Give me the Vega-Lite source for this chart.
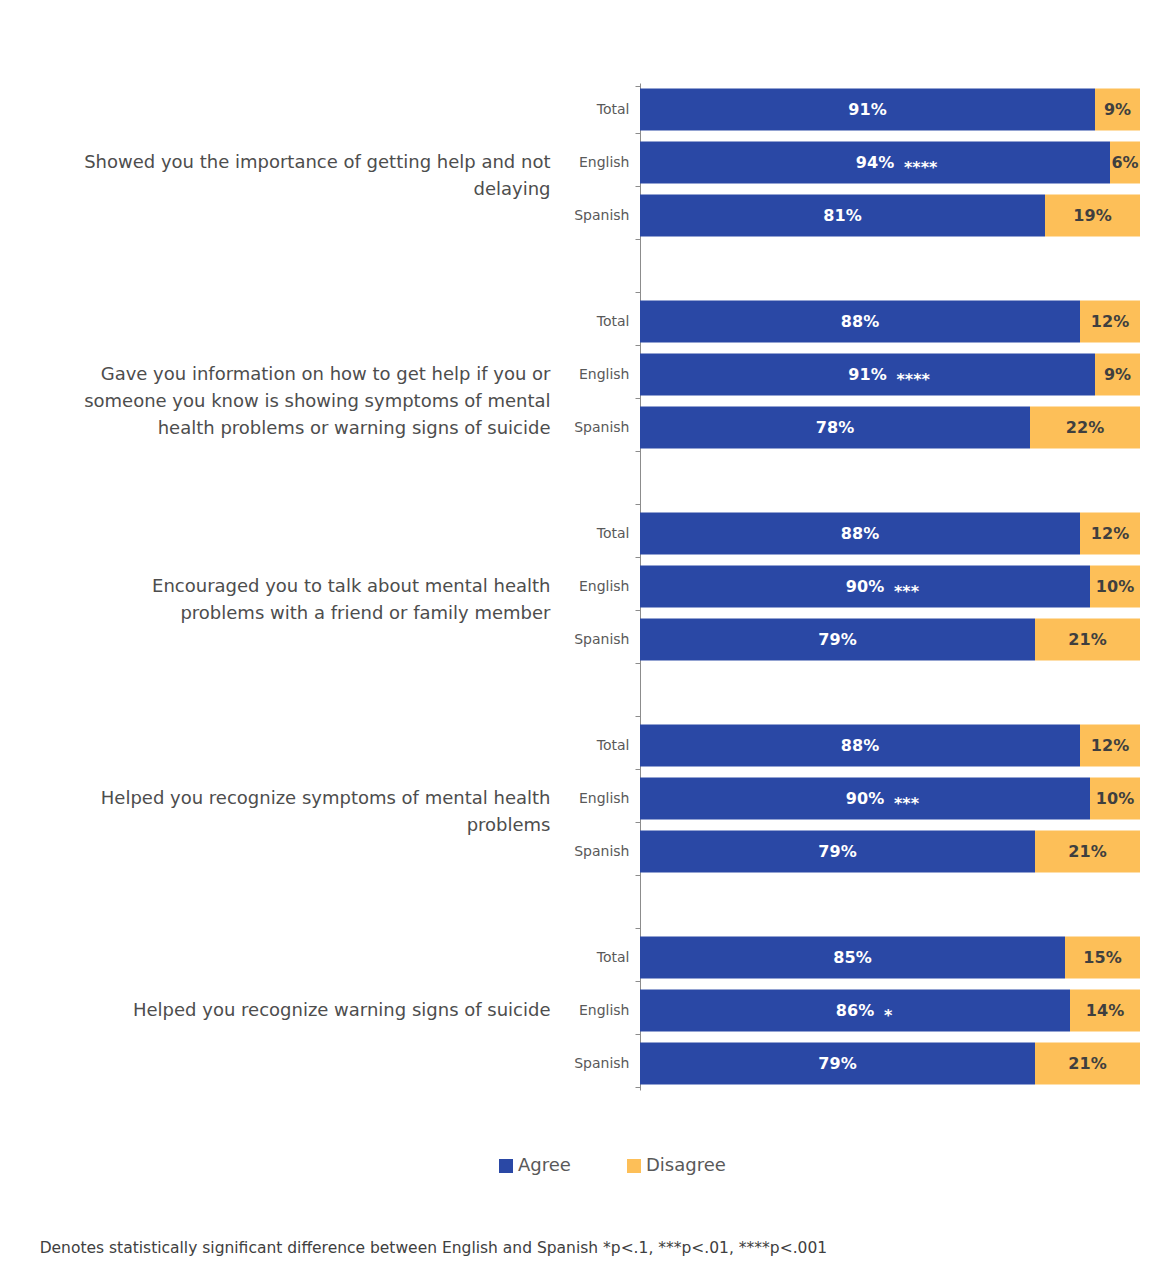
{
  "$schema": "https://vega.github.io/schema/vega-lite/v6.json",
  "padding": {"top": 76, "left": 39, "right": 18, "bottom": 5},
  "background": "white",
  "width": 500,
  "height": 1007,
  "datasets": {
    "bardata": [
      {"k": "1 Total", "r": "Agree", "v": 91, "stars": ""},
      {"k": "1 Total", "r": "Disagree", "v": 9, "stars": ""},
      {"k": "1 English", "r": "Agree", "v": 94, "stars": "****"},
      {"k": "1 English", "r": "Disagree", "v": 6, "stars": ""},
      {"k": "1 Spanish", "r": "Agree", "v": 81, "stars": ""},
      {"k": "1 Spanish", "r": "Disagree", "v": 19, "stars": ""},
      {"k": "2 Total", "r": "Agree", "v": 88, "stars": ""},
      {"k": "2 Total", "r": "Disagree", "v": 12, "stars": ""},
      {"k": "2 English", "r": "Agree", "v": 91, "stars": "****"},
      {"k": "2 English", "r": "Disagree", "v": 9, "stars": ""},
      {"k": "2 Spanish", "r": "Agree", "v": 78, "stars": ""},
      {"k": "2 Spanish", "r": "Disagree", "v": 22, "stars": ""},
      {"k": "3 Total", "r": "Agree", "v": 88, "stars": ""},
      {"k": "3 Total", "r": "Disagree", "v": 12, "stars": ""},
      {"k": "3 English", "r": "Agree", "v": 90, "stars": "***"},
      {"k": "3 English", "r": "Disagree", "v": 10, "stars": ""},
      {"k": "3 Spanish", "r": "Agree", "v": 79, "stars": ""},
      {"k": "3 Spanish", "r": "Disagree", "v": 21, "stars": ""},
      {"k": "4 Total", "r": "Agree", "v": 88, "stars": ""},
      {"k": "4 Total", "r": "Disagree", "v": 12, "stars": ""},
      {"k": "4 English", "r": "Agree", "v": 90, "stars": "***"},
      {"k": "4 English", "r": "Disagree", "v": 10, "stars": ""},
      {"k": "4 Spanish", "r": "Agree", "v": 79, "stars": ""},
      {"k": "4 Spanish", "r": "Disagree", "v": 21, "stars": ""},
      {"k": "5 Total", "r": "Agree", "v": 85, "stars": ""},
      {"k": "5 Total", "r": "Disagree", "v": 15, "stars": ""},
      {"k": "5 English", "r": "Agree", "v": 86, "stars": "*"},
      {"k": "5 English", "r": "Disagree", "v": 14, "stars": ""},
      {"k": "5 Spanish", "r": "Agree", "v": 79, "stars": ""},
      {"k": "5 Spanish", "r": "Disagree", "v": 21, "stars": ""}
    ],
    "qdata": [
      {"q": "Showed you the importance of getting help and not|delaying"},
      {"q": "Gave you information on how to get help if you or|someone you know is showing symptoms of mental|health problems or warning signs of suicide"},
      {"q": "Encouraged you to talk about mental health|problems with a friend or family member"},
      {"q": "Helped you recognize symptoms of mental health|problems"},
      {"q": "Helped you recognize warning signs of suicide"}
    ]
  },
  "title": {
    "text": "Denotes statistically significant difference between English and Spanish *p<.1, ***p<.01, ****p<.001",
    "orient": "bottom",
    "anchor": "start",
    "frame": "bounds",
    "font": "DejaVu Sans",
    "fontSize": 15.5,
    "fontWeight": "normal",
    "color": "#404040",
    "offset": 66,
    "dx": -44
  },
  "layer": [
    {
      "data": {"name": "bardata"},
      "transform": [
        {"stack": "v", "groupby": ["k"], "as": ["v0", "v1"], "sort": [{"field": "r", "order": "ascending"}]},
        {"calculate": "(datum.v0 + datum.v1) / 2", "as": "mid"},
        {"calculate": "datum.v + '%'", "as": "lbl"}
      ],
      "layer": [
        {
          "mark": {"type": "bar", "size": 42},
          "encoding": {
            "y": {"field": "k", "type": "nominal", "title": null,
              "scale": {"domain": ["1 Total", "1 English", "1 Spanish", "s1", "2 Total", "2 English", "2 Spanish", "s2", "3 Total", "3 English", "3 Spanish", "s3", "4 Total", "4 English", "4 Spanish", "s4", "5 Total", "5 English", "5 Spanish"]},
              "axis": {"labelExpr": "isString(datum.value) && indexof(datum.value, ' ') == 1 ? slice(datum.value, 2) : ''", "labelFont": "DejaVu Sans", "labelFontSize": 14, "labelColor": "#595959", "domainColor": "#8c8c8c", "tickColor": "#8c8c8c", "tickBand": "extent", "tickSize": 5, "labelPadding": 6}},
            "x": {"field": "v0", "type": "quantitative", "scale": {"domain": [0, 100], "nice": false}, "axis": null},
            "x2": {"field": "v1"},
            "color": {"field": "r", "type": "nominal", "title": null,
              "scale": {"domain": ["Agree", "Disagree"], "range": ["#2A48A5", "#FDBF58"]},
              "legend": {"orient": "none", "legendX": -143, "legendY": 1074, "direction": "horizontal", "symbolType": "square", "symbolSize": 196, "symbolStrokeWidth": 0, "labelFont": "DejaVu Sans", "labelFontSize": 18, "labelColor": "#595959", "columnPadding": 54, "labelOffset": 3}}
          }
        },
        {
          "mark": {"type": "text", "font": "DejaVu Sans", "fontSize": 16, "fontWeight": "bold"},
          "encoding": {
            "y": {"field": "k", "type": "nominal"},
            "x": {"field": "mid", "type": "quantitative"},
            "text": {"field": "lbl", "type": "nominal"},
            "color": {"condition": {"test": "datum.r == 'Agree'", "value": "white"}, "value": "#3f3f3f"}
          }
        },
        {
          "transform": [{"filter": "datum.stars != ''"}],
          "mark": {"type": "text", "font": "DejaVu Sans", "fontSize": 16, "fontWeight": "bold", "align": "left", "dx": 29, "dy": 5, "color": "white"},
          "encoding": {
            "y": {"field": "k", "type": "nominal"},
            "x": {"field": "mid", "type": "quantitative"},
            "text": {"field": "stars", "type": "nominal"}
          }
        }
      ]
    },
    {
      "data": {"name": "qdata"},
      "mark": {"type": "point", "opacity": 0},
      "encoding": {
        "y": {"field": "q", "type": "nominal", "title": null,
          "scale": {"domain": ["t1", "Showed you the importance of getting help and not|delaying", "p1", "s1", "t2", "Gave you information on how to get help if you or|someone you know is showing symptoms of mental|health problems or warning signs of suicide", "p2", "s2", "t3", "Encouraged you to talk about mental health|problems with a friend or family member", "p3", "s3", "t4", "Helped you recognize symptoms of mental health|problems", "p4", "s4", "t5", "Helped you recognize warning signs of suicide", "p5"]},
          "axis": {"orient": "left", "offset": 90, "domain": false, "ticks": false, "labelPadding": 0,
            "labelExpr": "isString(datum.value) && length(datum.value) > 3 ? split(datum.value, '|') : ''",
            "labelFont": "DejaVu Sans", "labelFontSize": 18, "labelColor": "#4d4d4d", "labelLineHeight": 27, "labelLimit": 0,
            "encode": {"labels": {"update": {"dy": {"signal": "isString(datum.value) ? -(length(split(datum.value, '|')) - 1) * 13.5 : 0"}}}}}
        }
      }
    }
  ],
  "resolve": {"scale": {"y": "independent"}, "axis": {"y": "independent"}},
  "config": {"view": {"stroke": null}}
}
